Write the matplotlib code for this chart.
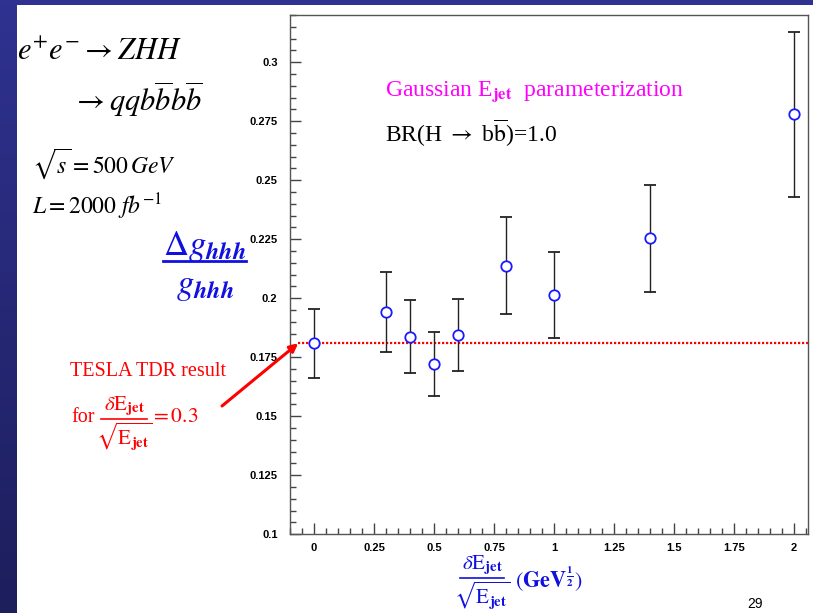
import numpy as np
import matplotlib
matplotlib.use("Agg")
import matplotlib.pyplot as plt
from matplotlib.ticker import MultipleLocator, FuncFormatter
from matplotlib.lines import Line2D

plt.rcParams['mathtext.fontset'] = 'stix'
plt.rcParams['font.family'] = ['Liberation Serif', 'DejaVu Serif']

# data
resolution = [0.0, 0.3, 0.4, 0.5, 0.6, 0.8, 1.0, 1.4, 2.0]
rel_error = [0.1809, 0.1943, 0.1837, 0.1722, 0.1845, 0.2138, 0.2014, 0.2254, 0.2781]
err_up = [0.1956, 0.2113, 0.1993, 0.1859, 0.1996, 0.2343, 0.2195, 0.2480, 0.3127]
err_down = [0.1661, 0.1774, 0.1683, 0.1585, 0.1692, 0.1935, 0.1831, 0.2027, 0.2431]
tdr_value = 0.1809
tdr_line_start = -0.066

W, H = 813, 613
fig = plt.figure(figsize=(W / 100, H / 100), dpi=100)
fig.patch.set_facecolor('white')

def px(x, y):
    # pixel position on the slide -> figure fraction
    return x / W, 1 - y / H

def frac(x0, x1, y_line, num, den, color, size, lw=1.2):
    # hand made fraction so numerator and denominator keep full size
    xc = (x0 + x1) / 2
    fig.text(*px(xc, y_line - 1), num, fontsize=size, color=color, ha='center', va='bottom')
    fig.text(*px(xc, y_line + 1), den, fontsize=size, color=color, ha='center', va='top')
    fig.add_artist(Line2D([x0 / W, x1 / W], [1 - y_line / H, 1 - y_line / H], color=color, lw=lw))

# slide border: dark blue stripes
stripe = fig.add_axes([0, 0, 16 / W, 1])
grad = np.linspace(0, 1, 256).reshape(-1, 1)
stripe.imshow(grad, aspect='auto', cmap=matplotlib.colors.LinearSegmentedColormap.from_list(
    'slide', ['#2f3290', '#1d1e5c']), extent=[0, 1, 0, 1], origin='upper')
stripe.axis('off')
top = fig.add_axes([0, 1 - 5 / H, 1, 5 / H])
top.set_facecolor('#2f3290')
top.set_xticks([])
top.set_yticks([])
for s in top.spines.values():
    s.set_visible(False)

# main plot
ax = fig.add_axes([290 / W, (H - 534.3) / H, (808.3 - 290) / W, (534.3 - 15) / H])
yerr = [np.array(rel_error) - np.array(err_down), np.array(err_up) - np.array(rel_error)]
ax.errorbar(resolution, rel_error, yerr=yerr, fmt='o', ms=7.5, mfc='white', mec='#1a1aff',
            mew=1.3, ecolor='#222222', elinewidth=1.0, capsize=4.5, capthick=1.0, zorder=3)
ax.plot([tdr_line_start, 2.06], [tdr_value, tdr_value], color='red', lw=1.6,
        ls=(0, (1, 0.8)), zorder=2)

ax.set_xlim(-0.1, 2.06)
ax.set_ylim(0.1, 0.32)
ax.xaxis.set_major_locator(MultipleLocator(0.25))
ax.xaxis.set_minor_locator(MultipleLocator(0.05))
ax.yaxis.set_major_locator(MultipleLocator(0.025))
ax.yaxis.set_minor_locator(MultipleLocator(0.005))
fmt = FuncFormatter(lambda v, p: '%g' % round(v, 4))
ax.xaxis.set_major_formatter(fmt)
ax.yaxis.set_major_formatter(fmt)
ax.tick_params(which='both', direction='in', color='#444444', width=1.0)
ax.tick_params(which='major', length=8)
ax.tick_params(which='minor', length=4)
ax.tick_params(axis='y', pad=9)
ax.tick_params(axis='x', pad=6)
for lab in ax.get_xticklabels() + ax.get_yticklabels():
    lab.set_fontfamily('Liberation Sans')
    lab.set_fontweight('bold')
    lab.set_fontsize(8)
for s in ax.spines.values():
    s.set_color('#555555')
    s.set_linewidth(1.0)

# arrow to the TESLA result
ax.annotate('', xy=(tdr_line_start, tdr_value), xycoords='data',
            xytext=px(222, 406), textcoords='figure fraction',
            arrowprops=dict(arrowstyle='-|>', color='red', lw=2.2, mutation_scale=12,
                            shrinkA=0, shrinkB=0))

# process text on the left
fig.text(*px(17, 52), r'$e^{+}e^{-}\rightarrow ZHH$', fontsize=22, va='center', ha='left')
fig.text(*px(72, 99), r'$\rightarrow qqb\overline{b}b\overline{b}$', fontsize=22,
         va='center', ha='left')
fig.text(*px(32, 164), r'$\sqrt{s}=500\,GeV$', fontsize=17, va='center', ha='left')
fig.text(*px(32, 207), r'$L=2000\ fb^{-1}$', fontsize=17, va='center', ha='left')

# blue y title as a fraction
blue = '#1010e0'
fig.text(*px(205, 246), r'$\Delta g_{\mathbfit{hhh}}$', fontsize=25, color=blue,
         va='center', ha='center')
fig.text(*px(205, 287), r'$g_{\mathbfit{hhh}}$', fontsize=25, color=blue,
         va='center', ha='center')
fig.add_artist(Line2D([163 / W, 246 / W], [1 - 261 / H, 1 - 261 / H], color=blue, lw=2.0))

# labels in the plot
fig.text(*px(385, 92), r'Gaussian E$_{\mathbf{jet}}$  parameterization', fontsize=17,
         color='magenta', va='center', ha='left')
fig.text(*px(385, 133), r'BR(H $\rightarrow$ b$\overline{\mathrm{b}}$)=1.0', fontsize=17,
         color='black', va='center', ha='left')

# red TESLA note
red = '#ff0000'
fig.text(*px(70, 372), 'TESLA TDR result', fontsize=14.5, color=red, va='center', ha='left')
fig.text(*px(71, 418), 'for', fontsize=14.5, color=red, va='center', ha='left')
frac(101, 147, 419, r'$\delta\mathrm{E}_{\mathbf{jet}}$', r'$\sqrt{\mathrm{E}_{\mathbf{jet}}}$', red, 15)
fig.text(*px(150, 418), r'$=0.3$', fontsize=15.5, color=red, va='center', ha='left')

# x title
frac(460, 504, 578, r'$\delta\mathrm{E}_{\mathbf{jet}}$', r'$\sqrt{\mathrm{E}_{\mathbf{jet}}}$', blue, 15)
fig.text(*px(515, 579), r'$(\mathbf{GeV}^{\frac{\mathbf{1}}{\mathbf{2}}})$', fontsize=16,
         color=blue, va='center', ha='left')

fig.text(*px(755, 604), '29', fontsize=10, family='Liberation Sans', va='center', ha='center')

fig.savefig('out.png', dpi=100)
